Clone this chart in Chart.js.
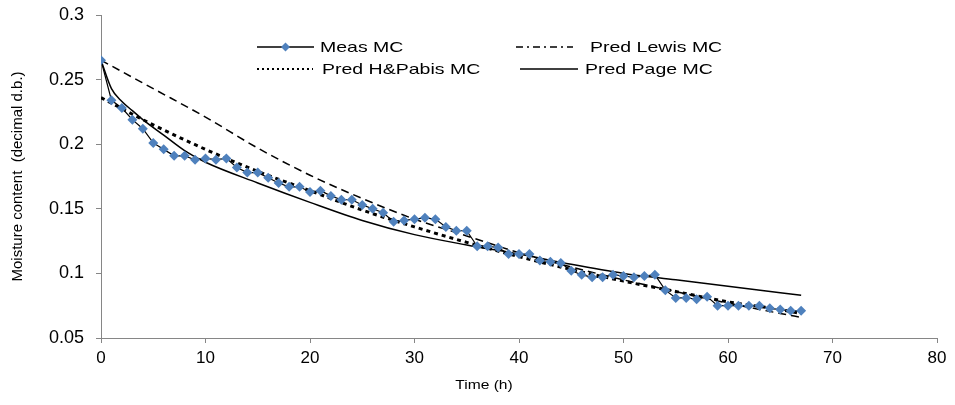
<!DOCTYPE html>
<html>
<head>
<meta charset="utf-8">
<script src="https://cdn.jsdelivr.net/npm/chart.js@4"></script>
<style>
  html, body { margin: 0; padding: 0; background: #fff; }
  #wrap { width: 955px; height: 405px; position: relative; }
</style>
</head>
<body>
<div id="wrap"><canvas id="myChart"></canvas></div>
<script>
// measured moisture content, one reading per hour
const hours = [0,1,2,3,4,5,6,7,8,9,10,11,12,13,14,15,16,17,18,19,20,21,22,23,24,25,26,27,28,29,30,31,32,33,
    34,35,36,37,38,39,40,41,42,43,44,45,46,47,48,49,50,51,52,53,54,55,56,57,58,59,60,61,62,63,64,65,66,67];
const measMC = [0.265,0.234,0.228,0.219,0.212,0.201,0.196,0.191,0.191,0.188,0.189,0.188,0.189,0.182,0.178,0.178,0.174,
    0.170,0.167,0.167,0.163,0.164,0.160,0.157,0.157,0.153,0.150,0.147,0.140,0.141,0.142,0.143,0.142,0.136,0.133,0.133,
    0.121,0.121,0.120,0.115,0.115,0.115,0.110,0.109,0.108,0.102,0.099,0.097,0.097,0.099,0.098,0.097,0.098,0.099,
    0.087,0.081,0.081,0.080,0.082,0.075,0.075,0.075,0.075,0.075,0.073,0.072,0.071,0.071];

// model curves
const predHours = [0,5,10,15,20,25,30,35,40,45,50,55,60,65,67];
const lewisMC = [0.265,0.243,0.221,0.197,0.176,0.158,0.142,0.129,0.116,0.105,0.095,0.086,0.077,0.069,0.066];
const hpabisMC = [0.236,0.215,0.196,0.179,0.164,0.149,0.136,0.124,0.113,0.103,0.094,0.086,0.078,0.072,0.069];
const pageHours = [0,1,2,3,4,6,8,10,15,20,25,30,35,40,45,50,55,60,65,67];
const pageMC = [0.265,0.243,0.233,0.226,0.219,0.207,0.195,0.186,0.170,0.155,0.141,0.130,0.122,0.115,0.107,0.100,
    0.095,0.090,0.085,0.083];

const xTicks = [0,10,20,30,40,50,60,70,80];
const yTicks = [0.05,0.1,0.15,0.2,0.25,0.3];

const pts = (xs, ys) => xs.map((x, i) => ({x: x, y: ys[i]}));

const axisGrey = '#868686';
const font = '"Liberation Sans", Arial, sans-serif';

// two-column legend inside the plot, plus the x axis title (it sits left of centre)
const insideLegend = {
    id: 'insideLegend',
    afterDraw(chart) {
        const c = chart.ctx;
        const rows = [
            {x1: 257, x2: 314, y: 47, dash: [], w: 1.3, marker: true, text: 'Meas MC', tx: 320},
            {x1: 516, x2: 573, y: 47, dash: [7, 4, 2, 4], w: 1.3, text: 'Pred Lewis MC', tx: 590},
            {x1: 257, x2: 313, y: 69, dash: [2, 3], w: 1.8, text: 'Pred H&Pabis MC', tx: 322},
            {x1: 520, x2: 578, y: 69, dash: [], w: 1.3, text: 'Pred Page MC', tx: 585}
        ];
        c.save();
        rows.forEach(r => {
            c.strokeStyle = '#000';
            c.lineWidth = r.w;
            c.setLineDash(r.dash);
            c.beginPath();
            c.moveTo(r.x1, r.y);
            c.lineTo(r.x2, r.y);
            c.stroke();
            c.setLineDash([]);
            if (r.marker) {
                const mx = (r.x1 + r.x2) / 2;
                c.fillStyle = '#4F81BD';
                c.beginPath();
                c.moveTo(mx - 4.5, r.y);
                c.lineTo(mx, r.y - 4.5);
                c.lineTo(mx + 4.5, r.y);
                c.lineTo(mx, r.y + 4.5);
                c.closePath();
                c.fill();
            }
            c.save();
            c.translate(r.tx, r.y);
            c.scale(1.3, 1);
            c.fillStyle = '#000';
            c.font = '15px ' + font;
            c.textBaseline = 'middle';
            c.fillText(r.text, 0, 1);
            c.restore();
        });

        c.save();
        c.translate(484, 385);
        c.scale(1.2, 1);
        c.fillStyle = '#000';
        c.font = '13px ' + font;
        c.textAlign = 'center';
        c.textBaseline = 'middle';
        c.fillText('Time (h)', 0, 0);
        c.restore();
        c.restore();
    }
};

const ctx = document.getElementById('myChart');
const myChart = new Chart(ctx, {
    type: 'line',
    data: {
        datasets: [{
            label: 'Meas MC',
            data: pts(hours, measMC),
            borderColor: '#000',
            borderWidth: 1.2,
            pointStyle: 'rectRot',
            pointRadius: 5,
            pointBackgroundColor: '#4F81BD',
            pointBorderWidth: 0,
            order: 0
        }, {
            label: 'Pred Lewis MC',
            data: pts(predHours, lewisMC),
            borderColor: '#000',
            borderWidth: 1.5,
            borderDash: [8, 5],
            pointRadius: 0,
            cubicInterpolationMode: 'monotone',
            order: 1
        }, {
            label: 'Pred H&Pabis MC',
            data: pts(predHours, hpabisMC),
            borderColor: '#000',
            borderWidth: 3,
            borderDash: [4, 4],
            pointRadius: 0,
            cubicInterpolationMode: 'monotone',
            order: 2
        }, {
            label: 'Pred Page MC',
            data: pts(pageHours, pageMC),
            borderColor: '#000',
            borderWidth: 1.5,
            pointRadius: 0,
            cubicInterpolationMode: 'monotone',
            order: 3
        }]
    },
    options: {
        responsive: true,
        maintainAspectRatio: false,
        animation: false,
        layout: {
            padding: {top: 15, right: 18, left: 0, bottom: 0}
        },
        plugins: {
            legend: {
                display: false,
            },
            title: {
                display: false,
            },
            tooltip: {
                enabled: false,
            }
        },
        scales: {
            x: {
                type: 'linear',
                min: 0,
                max: 80,
                afterBuildTicks: function(scale) {
                    scale.ticks = xTicks.map(v => ({value: v}));
                },
                afterFit: function(scale) {
                    scale.height = 67;
                },
                grid: {
                    drawOnChartArea: false,
                    color: axisGrey,
                    tickLength: 5
                },
                border: {
                    color: axisGrey
                },
                ticks: {
                    color: '#000',
                    padding: 5,
                    maxRotation: 0,
                    font: {family: font, size: 17}
                }
            },
            y: {
                min: 0.05,
                max: 0.3,
                afterBuildTicks: function(scale) {
                    scale.ticks = yTicks.map(v => ({value: v}));
                },
                afterFit: function(scale) {
                    scale.width = 101;
                    scale.paddingTop = 0;
                    scale.paddingBottom = 0;
                },
                grid: {
                    drawOnChartArea: false,
                    color: axisGrey,
                    tickLength: 5
                },
                border: {
                    color: axisGrey
                },
                ticks: {
                    color: '#000',
                    padding: 12,
                    font: {family: font, size: 18},
                    callback: function(value) {
                        return String(Math.round(value * 100) / 100);
                    }
                },
                title: {
                    display: true,
                    text: 'Moisture content  (decimal d.b.)',
                    color: '#000',
                    font: {family: font, size: 15},
                    padding: {top: 9, bottom: 0}
                }
            }
        }
    },
    plugins: [insideLegend]
});
</script>
</body>
</html>
